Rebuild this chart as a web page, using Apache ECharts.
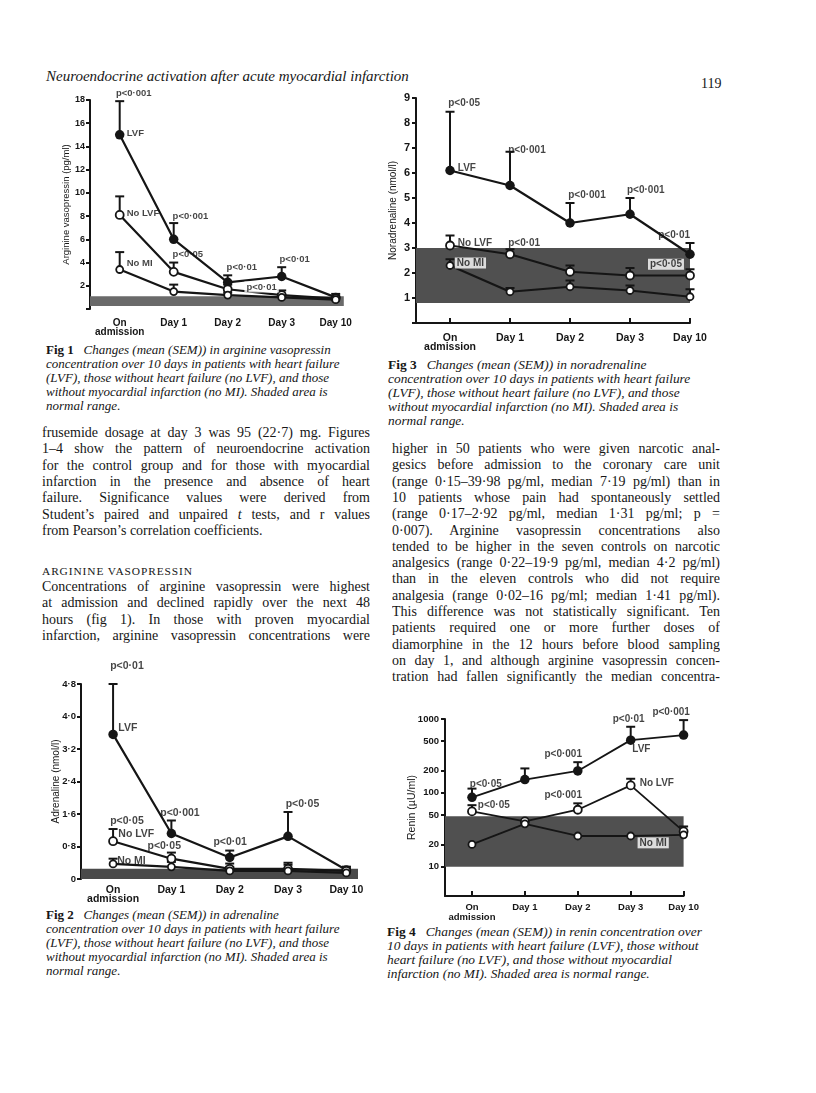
<!DOCTYPE html>
<html><head><meta charset="utf-8">
<script src="https://cdn.jsdelivr.net/npm/echarts@6/dist/echarts.min.js"></script>
<style>
html,body{margin:0;padding:0;background:#fff;}
#page{position:relative;width:816px;height:1093px;overflow:hidden;background:#fff;font-family:'Liberation Serif','DejaVu Serif',serif;color:#161616;}
.ln{position:absolute;font-size:14px;line-height:18px;height:18px;overflow:hidden;white-space:normal;}
.j{text-align:justify;text-align-last:justify;}
.nj{white-space:nowrap;}
.cap{position:absolute;white-space:nowrap;font-size:13px;line-height:14px;font-style:italic;}
.cap b{font-style:normal;font-weight:bold;}
#chart{position:absolute;left:0;top:0;width:816px;height:1093px;}
</style></head>
<body><div id="page"><div id="txt"></div><div id="chart"></div></div>
<script>
// ---------- data ----------
const dayLabels = ['On\nadmission', 'Day 1', 'Day 2', 'Day 3', 'Day 10'];
const dayPos = [0, 1, 2, 3, 4];

// Fig 1 arginine vasopressin (pg/ml)
const avpLVF = [15.0, 6.0, 2.3, 2.8, 1.0];
const avpLVFTop = [17.9, 7.4, 2.9, 3.6, 1.3];
const avpNoLVF = [8.1, 3.2, 1.7, 1.2, 0.9];
const avpNoLVFTop = [9.7, 4.0, 2.1, 1.6, 1.1];
const avpNoMI = [3.4, 1.5, 1.2, 1.0, 0.8];
const avpNoMITop = [4.9, 2.1, 1.4, 1.2, 1.0];
const avpNormal = [0.25, 1.1];
const avpNotes = [[-0.07, 18.6, 'p<0·001'], [0.13, 15.1, 'LVF'], [0.13, 8.2, 'No LVF'], [0.13, 3.9, 'No MI'],
  [0.98, 8.0, 'p<0·001'], [0.98, 4.7, 'p<0·05'], [1.98, 3.6, 'p<0·01'], [2.31, 1.9, 'p<0·01', 1], [2.96, 4.3, 'p<0·01']];

// Fig 3 noradrenaline (nmol/l)
const naLVF = [6.1, 5.5, 4.0, 4.35, 2.75];
const naLVFTop = [8.45, 6.85, 4.8, 5.0, 3.2];
const naNoLVF = [3.1, 2.75, 2.05, 1.9, 1.9];
const naNoLVFTop = [3.5, 2.95, 2.3, 2.2, 2.15];
const naNoMI = [2.3, 1.25, 1.45, 1.3, 1.05];
const naNoMITop = [2.55, 1.4, 1.7, 1.5, 1.35];
const naNormal = [0.8, 3.0];
const naNotes = [[-0.03, 8.8, 'p<0·05'], [0.13, 6.2, 'LVF'], [0.97, 6.9, 'p<0·001'], [1.97, 5.1, 'p<0·001'],
  [2.95, 5.3, 'p<0·001'], [3.47, 3.5, 'p<0·01'], [0.13, 3.2, 'No LVF'], [0.97, 3.2, 'p<0·01'],
  [0.08, 2.4, 'No MI', 1], [3.3, 2.35, 'p<0·05', 1]];

// Fig 2 adrenaline (nmol/l)
const adLVF = [3.56, 1.12, 0.53, 1.05, 0.22];
const adLVFTop = [4.8, 1.44, 0.7, 1.65, 0.3];
const adNoLVF = [0.93, 0.5, 0.25, 0.25, 0.2];
const adNoLVFTop = [1.23, 0.65, 0.38, 0.4, 0.3];
const adNoMI = [0.37, 0.3, 0.2, 0.2, 0.15];
const adNoMITop = [0.5, 0.42, 0.3, 0.35, 0.25];
const adNormal = [0, 0.25];
const adNotes = [[-0.05, 5.24, 'p<0·01'], [0.09, 3.71, 'LVF'], [-0.05, 1.42, 'p<0·05'], [0.09, 1.11, 'No LVF'],
  [0.59, 0.81, 'p<0·05'], [0.07, 0.45, 'No MI'], [0.81, 1.62, 'p<0·001'], [1.72, 0.92, 'p<0·01'], [2.96, 1.85, 'p<0·05']];

// Fig 4 renin (µU/ml)
const reLVF = [87, 151, 198, 517, 605];
const reLVFTop = [114, 214, 260, 785, 966];
const reNoLVF = [56, 41, 59, 126, 30];
const reNoLVFTop = [68, null, 72, 155, 35];
const reNoMI = [20, 38, 26, 26, 27];
const reNoMITop = [null, null, null, null, null];
const reNormal = [10, 48];
const reTicks = [10, 20, 50, 100, 200, 500, 1000];
const reNotes = [[-0.04, 130, 'p<0·05'], [0.11, 67, 'p<0·05'], [1.37, 330, 'p<0·001'], [1.37, 92, 'p<0·001'],
  [2.66, 980, 'p<0·01'], [3.41, 1230, 'p<0·001'], [3.03, 385, 'LVF'], [3.17, 136, 'No LVF'], [3.13, 21, 'No MI', 1]];

// ---------- text ----------
const header = 'Neuroendocrine activation after acute myocardial infarction';
const pageNo = '119';
const leftPara1 = ['frusemide dosage at day 3 was 95 (22·7) mg. Figures',
  '1–4 show the pattern of neuroendocrine activation',
  'for the control group and for those with myocardial',
  'infarction in the presence and absence of heart',
  'failure. Significance values were derived from',
  'Student’s paired and unpaired <i>t</i> tests, and r values',
  'from Pearson’s correlation coefficients.'];
const sectionHead = 'ARGININE VASOPRESSIN';
const leftPara2 = ['Concentrations of arginine vasopressin were highest',
  'at admission and declined rapidly over the next 48',
  'hours (fig 1). In those with proven myocardial',
  'infarction, arginine vasopressin concentrations were'];
const rightPara = ['higher in 50 patients who were given narcotic anal-',
  'gesics before admission to the coronary care unit',
  '(range 0·15–39·98 pg/ml, median 7·19 pg/ml) than in',
  '10 patients whose pain had spontaneously settled',
  '(range 0·17–2·92 pg/ml, median 1·31 pg/ml; p =',
  '0·007). Arginine vasopressin concentrations also',
  'tended to be higher in the seven controls on narcotic',
  'analgesics (range 0·22–19·9 pg/ml, median 4·2 pg/ml)',
  'than in the eleven controls who did not require',
  'analgesia (range 0·02–16 pg/ml; median 1·41 pg/ml).',
  'This difference was not statistically significant. Ten',
  'patients required one or more further doses of',
  'diamorphine in the 12 hours before blood sampling',
  'on day 1, and although arginine vasopressin concen-',
  'tration had fallen significantly the median concentra-'];
const capCommon = ['concentration over 10 days in patients with heart failure',
  '(LVF), those without heart failure (no LVF), and those',
  'without myocardial infarction (no MI). Shaded area is',
  'normal range.'];
const cap1 = [['Fig 1', 'Changes (mean (SEM)) in arginine vasopressin']].concat(capCommon);
const cap3 = [['Fig 3', 'Changes (mean (SEM)) in noradrenaline']].concat(capCommon);
const cap2 = [['Fig 2', 'Changes (mean (SEM)) in adrenaline']].concat(capCommon);
const cap4 = [['Fig 4', 'Changes (mean (SEM)) in renin concentration over'],
  '10 days in patients with heart failure (LVF), those without',
  'heart failure (no LVF), and those without myocardial',
  'infarction (no MI). Shaded area is normal range.'];

const txt = document.getElementById('txt');
function addDiv(html, cls, left, cy, width, extra) {
  const d = document.createElement('div');
  d.className = cls;
  d.innerHTML = html;
  d.style.left = left + 'px';
  if (width) d.style.width = width + 'px';
  Object.assign(d.style, extra || {});
  txt.appendChild(d);
  const h = parseFloat(getComputedStyle(d).lineHeight) || 18;
  d.style.top = (cy - h / 2) + 'px';
  return d;
}
function fitJ(d) {
  let fs = 14;
  while (d.scrollHeight > 19 && fs > 11) { fs -= 0.1; d.style.fontSize = fs + 'px'; }
}
function para(lines, x, y0, w, lastPlain) {
  lines.forEach((t, i) => {
    const plain = lastPlain && i === lines.length - 1;
    const d = addDiv(t, 'ln ' + (plain ? 'nj' : 'j'), x, y0 + i * 16.3, plain ? 0 : w);
    if (!plain) fitJ(d);
  });
}
addDiv(header, 'cap', 46, 76, 0, {fontSize: '15px', lineHeight: '18px'});
addDiv(pageNo, 'cap', 701, 84, 0, {fontSize: '14px', fontStyle: 'normal', lineHeight: '18px'});
para(leftPara1, 42, 433, 328, true);
addDiv(sectionHead, 'ln nj', 42, 571, 0, {fontSize: '11.4px', letterSpacing: '0.9px'});
para(leftPara2, 42, 587, 328, false);
para(rightPara, 392, 449, 328, false);
function caption(lines, x, y0, step, fs) {
  lines.forEach((l, i) => {
    const html = Array.isArray(l) ? '<b>' + l[0] + '</b>&nbsp;&nbsp;&nbsp;' + l[1] : l;
    addDiv(html, 'cap', x, y0 + i * step, 0, {fontSize: fs + 'px'});
  });
}
caption(cap1, 46, 350, 14, 13);
caption(cap3, 388, 365, 14, 13.4);
caption(cap2, 46, 915, 14, 13);
caption(cap4, 387, 932, 14, 13.4);

// ---------- chart ----------
const chart = echarts.init(document.getElementById('chart'), null, {renderer: 'canvas'});
const SANS = "'Liberation Sans', Arial, sans-serif";
const INK = '#151515';

function errItem(params, api) {
  const x = api.value(0), m = api.value(1), t = api.value(2);
  const a = api.coord([x, m]), b = api.coord([x, t]);
  return {type: 'group', children: [
    {type: 'line', shape: {x1: a[0], y1: a[1], x2: b[0], y2: b[1]}, style: {stroke: INK, lineWidth: 2}},
    {type: 'line', shape: {x1: b[0] - 4.5, y1: b[1], x2: b[0] + 4.5, y2: b[1]}, style: {stroke: INK, lineWidth: 2}}
  ]};
}

const figs = [
  {means: [avpLVF, avpNoLVF, avpNoMI], tops: [avpLVFTop, avpNoLVFTop, avpNoMITop], band: avpNormal, bandX: [-0.55, 4.15], notes: avpNotes, bandColor: '#6a6a6a', noteSize: 9.5, lw: 2.2},
  {means: [naLVF, naNoLVF, naNoMI], tops: [naLVFTop, naNoLVFTop, naNoMITop], band: naNormal, bandX: [-0.567, 4], notes: naNotes, bandColor: '#505050', noteSize: 10, lw: 2.2},
  {means: [adLVF, adNoLVF, adNoMI], tops: [adLVFTop, adNoLVFTop, adNoMITop], band: adNormal, bandX: [-0.55, 4.2], notes: adNotes, bandColor: '#4a4a4a', noteSize: 10.5, lw: 2.2},
  {means: [reLVF, reNoLVF, reNoMI], tops: [reLVFTop, reNoLVFTop, reNoMITop], band: reNormal, bandX: [-0.51, 4], notes: reNotes, bandColor: '#505050', noteSize: 10, lw: 1.8}
];

const series = [];
figs.forEach((f, g) => {
  series.push({type: 'line', xAxisIndex: g, yAxisIndex: g, data: [], z: 1, silent: true,
    markArea: {silent: true, itemStyle: {color: f.bandColor}, data: [[{xAxis: f.bandX[0], yAxis: f.band[0]}, {xAxis: f.bandX[1], yAxis: f.band[1]}]]}});
  f.means.forEach((m, k) => {
    series.push({type: 'custom', xAxisIndex: g, yAxisIndex: g, z: 3, clip: false, silent: true, renderItem: errItem,
      data: dayPos.map((x, i) => [x, m[i], f.tops[k][i]]).filter(d => d[2] != null)});
    series.push({type: 'line', xAxisIndex: g, yAxisIndex: g, z: 4, clip: false, silent: true,
      data: dayPos.map((x, i) => [x, m[i]]), symbol: 'circle', symbolSize: [9.5, 8, 7][k], showSymbol: true,
      lineStyle: {color: INK, width: f.lw},
      itemStyle: k === 0 ? {color: INK} : {color: '#fff', borderColor: INK, borderWidth: 1.8}});
  });
  series.push({type: 'scatter', xAxisIndex: g, yAxisIndex: g, z: 6, clip: false, silent: true, symbolSize: 0,
    itemStyle: {color: 'transparent'},
    data: f.notes.map(n => ({value: [n[0], n[1]], label: Object.assign({formatter: n[2]},
      n[3] ? {backgroundColor: '#fff', padding: [1, 2, 0, 2]} : {})})),
    label: {show: true, position: 'right', distance: 0, color: INK, fontFamily: SANS, fontWeight: 'bold', fontSize: f.noteSize}});
});

const grids = [
  {left: 90, top: 100, width: 253.8, height: 209},
  {left: 416, top: 98, width: 274, height: 225},
  {left: 81, top: 684, width: 277, height: 195},
  {left: 445, top: 719, width: 238.6, height: 177}
];
const lineSt = {color: INK, width: 2};
function xAx(g, min, max, showLine, margin, fs) {
  return {type: 'value', gridIndex: g, min: min, max: max,
    axisLine: {show: showLine, onZero: false, lineStyle: lineSt},
    axisTick: {show: showLine, inside: true, length: 5, customValues: dayPos, lineStyle: lineSt},
    axisLabel: {customValues: dayPos, formatter: v => dayLabels[Math.round(v)] || '', color: INK, fontFamily: SANS,
      fontWeight: 'bold', fontSize: fs, lineHeight: 9.5, margin: margin},
    splitLine: {show: false}};
}
const xAxes = [
  xAx(0, -0.55, 4.15, false, 9, 10),
  xAx(1, -0.567, 4, true, 10, 10.5),
  xAx(2, -0.55, 4.2, false, 6, 10.5),
  xAx(3, -0.51, 4, true, 7, 9.5)
];
function yAx(g, o) {
  return Object.assign({gridIndex: g, nameLocation: 'middle', nameRotate: 90, nameMoveOverlap: false,
    nameTextStyle: {color: INK, fontFamily: SANS, fontSize: o.nfs},
    axisLine: {show: true, onZero: false, lineStyle: lineSt},
    axisTick: {show: true, inside: false, length: 4, lineStyle: lineSt},
    splitLine: {show: false}}, o.extra);
}
const yAxes = [
  yAx(0, {nfs: 9.5, extra: {type: 'value', min: 0, max: 18, interval: 2, name: 'Arginine vasopressin (pg/ml)', nameGap: 19,
    axisLabel: {color: INK, fontFamily: SANS, fontWeight: 'bold', fontSize: 9, margin: 5, formatter: v => v === 0 ? '' : String(v)}}}),
  yAx(1, {nfs: 10, extra: {type: 'value', min: 0, max: 9, interval: 1, name: 'Noradrenaline (nmol/l)', nameGap: 18,
    axisLabel: {color: INK, fontFamily: SANS, fontWeight: 'bold', fontSize: 11, margin: 6, formatter: v => v === 0 ? '' : String(v)}}}),
  yAx(2, {nfs: 10, extra: {type: 'value', min: 0, max: 4.8, interval: 0.8, name: 'Adrenaline (nmol/l)', nameGap: 20,
    axisLabel: {color: INK, fontFamily: SANS, fontWeight: 'bold', fontSize: 9.5, margin: 5,
      formatter: v => v === 0 ? '0' : v.toFixed(1).replace('.', '·')}}}),
  yAx(3, {nfs: 10.5, extra: {type: 'log', logBase: 10, min: 4, max: 1000, name: 'Renin (µU/ml)', nameGap: 27,
    axisTick: {show: true, inside: false, length: 4, customValues: reTicks, lineStyle: lineSt},
    axisLabel: {color: INK, fontFamily: SANS, fontWeight: 'bold', fontSize: 9.5, margin: 6, customValues: reTicks,
      formatter: v => String(Math.round(v))}}})
];

chart.setOption({
  animation: false,
  backgroundColor: 'transparent',
  grid: grids,
  xAxis: xAxes,
  yAxis: yAxes,
  series: series
});
</script>
</body></html>
